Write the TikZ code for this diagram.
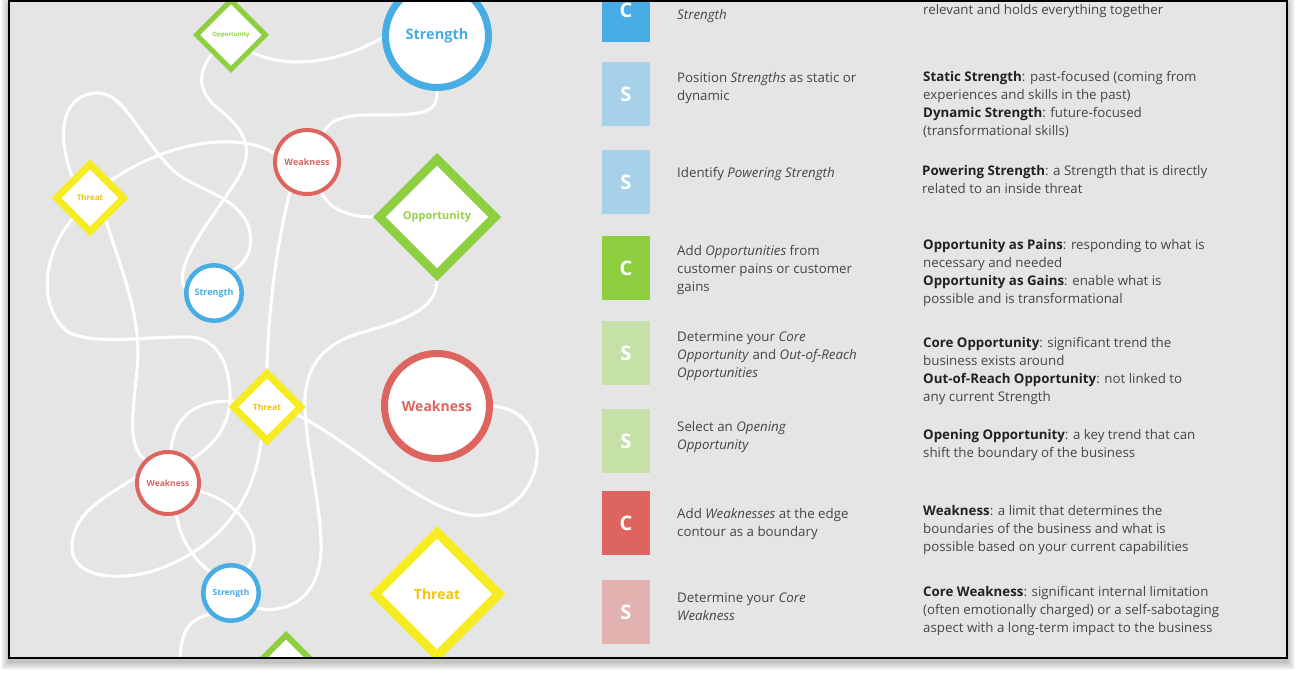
\documentclass[tikz,border=0pt]{standalone}
\usepackage{fontspec}
\setmainfont{Open Sans}
\usetikzlibrary{shapes.geometric}
\pgfdeclarelayer{backdrop}
\pgfdeclarelayer{wires}
\pgfsetlayers{backdrop,wires,main}
\newcommand\lbl[1]{\fontsize{#1}{#1}\selectfont\bfseries}
\newcommand\term[1]{\textbf{\color{termink}#1}}
\tikzset{
  wire/.style={draw=white, line width=3},
  ring/.style={circle, draw=#1, fill=white, text=#1, inner sep=0pt},
  kite/.style={diamond, aspect=1, draw=#1, fill=white, inner sep=0pt},
  stepbox/.style={rectangle, fill=#1, minimum width=48, minimum height=64, inner sep=0pt, text=white, font=\lbl{20}},
  action/.style={anchor=west, align=left, inner sep=0pt, text=ink, font=\fontsize{13.3}{18}\selectfont},
}
\begin{document}
\begin{tikzpicture}[x=1pt, y=-1pt]
  \definecolor{cblue}{HTML}{47ADE4}
  \definecolor{sblue}{HTML}{A6D1E9}
  \definecolor{cgreen}{HTML}{8ECF40}
  \definecolor{gtext}{HTML}{96D048}
  \definecolor{sgreen}{HTML}{C6E1A7}
  \definecolor{cred}{HTML}{DD645F}
  \definecolor{spink}{HTML}{E1B2AF}
  \definecolor{yel}{HTML}{F7EC21}
  \definecolor{yeltext}{HTML}{F4C20F}
  \definecolor{paper}{HTML}{E5E5E5}
  \definecolor{ink}{HTML}{454545}
  \definecolor{termink}{HTML}{222222}
  \useasboundingbox (0,0) rectangle (1296,676);
  \begin{pgfonlayer}{backdrop}
    \fill[white] (0,0) rectangle (1296,676);
    \foreach \k in {1,...,8}
      \fill[black, opacity=0.03] (9-\k,5-\k) rectangle (1287+\k,662+\k);
    \fill[paper] (9,1) rectangle (1287,658);
  \end{pgfonlayer}
  \begin{scope}
    \clip (10,2) rectangle (1286,657);
    % map of the business
    \node[kite=cgreen, line width=5, minimum size=71, text=gtext, font=\lbl{6}] (oppA) at (231,35) {Opportunity};
    \node[ring=cblue, line width=7, minimum size=103, font=\lbl{14.5}] (strA) at (437,36) {Strength};
    \node[ring=cred, line width=4, minimum size=64, font=\lbl{9}] (wkA) at (307,162) {Weakness};
    \node[kite=yel, line width=7, minimum size=70, text=yeltext, font=\lbl{8}] (thrA) at (90,198) {Threat};
    \node[kite=cgreen, line width=9, minimum size=119, text=gtext, font=\lbl{11}] (oppB) at (437,217) {Opportunity};
    \node[ring=cblue, line width=4.5, minimum size=55.5, font=\lbl{9}] (strB) at (214,293) {Strength};
    \node[kite=yel, line width=7, minimum size=70, text=yeltext, font=\lbl{8.5}] (thrB) at (267,407) {Threat};
    \node[ring=cred, line width=7, minimum size=105, font=\lbl{14}] (wkB) at (437,406) {Weakness};
    \node[ring=cred, line width=4, minimum size=62, font=\lbl{8.5}] (wkC) at (168,483) {Weakness};
    \node[ring=cblue, line width=4.5, minimum size=55.5, font=\lbl{8.5}] (strC) at (231,593) {Strength};
    \node[kite=yel, line width=9, minimum size=127, text=yeltext, font=\lbl{14}] (thrC) at (437,594) {Threat};
    \node[kite=cgreen, line width=6, minimum size=92] (oppC) at (286,680) {};
    \coordinate (offEdge) at (180,685);

    % steps
    \node[stepbox=cblue] (box1) at (626,10) {C};
    \node[stepbox=sblue] (box2) at (626,94) {S};
    \node[stepbox=sblue] (box3) at (626,182.5) {S};
    \node[stepbox=cgreen] (box4) at (626,268.5) {C};
    \node[stepbox=sgreen] (box5) at (626,353) {S};
    \node[stepbox=sgreen] (box6) at (626,441) {S};
    \node[stepbox=cred] (box7) at (626,523) {C};
    \node[stepbox=spink] (box8) at (626,612) {S};

    \node[action] (act1) at (677,16) {\emph{Strength}};
    \node[action] (act2) at (677,88.5) {Position \emph{Strengths} as static or\\dynamic};
    \node[action] (act3) at (677,174) {Identify \emph{Powering Strength}};
    \node[action] (act4) at (677,270) {Add \emph{Opportunities} from\\customer pains or customer\\gains};
    \node[action] (act5) at (677,356) {Determine your \emph{Core}\\\emph{Opportunity} and \emph{Out-of-Reach}\\\emph{Opportunities}};
    \node[action] (act6) at (677,437.5) {Select an \emph{Opening}\\\emph{Opportunity}};
    \node[action] (act7) at (677,524) {Add \emph{Weaknesses} at the edge\\contour as a boundary};
    \node[action] (act8) at (677,607) {Determine your \emph{Core}\\\emph{Weakness}};

    \node[action] (def1) at (923,11) {relevant and holds everything together};
    \node[action] (def2) at (923,104) {\term{Static Strength}: past-focused (coming from\\experiences and skills in the past)\\\term{Dynamic Strength}: future-focused\\(transformational skills)};
    \node[action] (def3) at (922,180) {\term{Powering Strength}: a Strength that is directly\\related to an inside threat};
    \node[action] (def4) at (923,273) {\term{Opportunity as Pains}: responding to what is\\necessary and needed\\\term{Opportunity as Gains}: enable what is\\possible and is transformational};
    \node[action] (def5) at (923,371.5) {\term{Core Opportunity}: significant trend the\\business exists around\\\term{Out-of-Reach Opportunity}: not linked to\\any current Strength};
    \node[action] (def6) at (923,445) {\term{Opening Opportunity}: a key trend that can\\shift the boundary of the business};
    \node[action] (def7) at (923,530.5) {\term{Weakness}: a limit that determines the\\boundaries of the business and what is\\possible based on your current capabilities};
    \node[action] (def8) at (923,611) {\term{Core Weakness}: significant internal limitation\\(often emotionally charged) or a self-sabotaging\\aspect with a long-term impact to the business};
  \end{scope}

  % white threads behind the map
  \begin{pgfonlayer}{wires}
    \begin{scope}
      \clip (10,2) rectangle (1286,657);
      \draw[wire] (oppA.-40) .. controls (290,70) and (340,62) .. (strA.182);
      \draw[wire] (oppA.-135) .. controls (198,72) and (196,92) .. (220,110)
        .. controls (245,130) and (255,150) .. (238,178)
        .. controls (215,215) and (172,265) .. (strB.170);
      \draw[wire] (strA.-90) .. controls (438,115) and (420,115) .. (370,115)
        .. controls (340,115) and (328,122) .. (wkA.60);
      \draw[wire] (wkA.165) .. controls (240,132) and (170,140) .. (thrA.40);
      \draw[wire] (thrA.130) .. controls (58,140) and (58,95) .. (97,93)
        .. controls (125,92) and (140,140) .. (175,172)
        .. controls (200,192) and (235,195) .. (248,225)
        .. controls (255,245) and (248,262) .. (strB.50);
      \draw[wire] (thrA.-130) .. controls (45,250) and (35,305) .. (68,332)
        .. controls (95,346) and (150,336) .. (190,337)
        .. controls (220,338) and (231,370) .. (230,400)
        .. controls (229,425) and (215,445) .. (wkC.45);
      \draw[wire] (thrA.-55) .. controls (125,280) and (142,320) .. (137,370)
        .. controls (132,420) and (128,445) .. (wkC.135);
      \draw[wire] (wkC.85) .. controls (175,415) and (195,400) .. (thrB.170);
      \draw[wire] (wkA.-120) .. controls (275,250) and (268,320) .. (thrB.north);
      \draw[wire] (wkA.-65) .. controls (330,210) and (350,217) .. (oppB.west);
      \draw[wire] (oppB.south) .. controls (437,310) and (400,322) .. (360,333)
        .. controls (320,345) and (303,370) .. (305,410)
        .. controls (308,460) and (322,510) .. (321,550)
        .. controls (320,595) and (290,615) .. (strC.-30);
      \draw[wire] (thrB.-15) .. controls (350,440) and (420,510) .. (470,515)
        .. controls (520,520) and (545,470) .. (535,440)
        .. controls (528,415) and (510,408) .. (wkB.east);
      \draw[wire] (thrB.-100) .. controls (255,500) and (220,550) .. (150,572)
        .. controls (110,582) and (70,575) .. (72,545)
        .. controls (74,510) and (110,495) .. (wkC.170);
      \draw[wire] (wkC.-15) .. controls (235,500) and (268,535) .. (strC.55);
      \draw[wire] (wkC.-75) .. controls (180,540) and (195,560) .. (strC.135);
      \draw[wire] (strC.-135) .. controls (185,620) and (178,635) .. (offEdge);
    \end{scope}
  \end{pgfonlayer}

  \draw[black, line width=2.5] (9,1) rectangle (1287,658);
\end{tikzpicture}
\end{document}
